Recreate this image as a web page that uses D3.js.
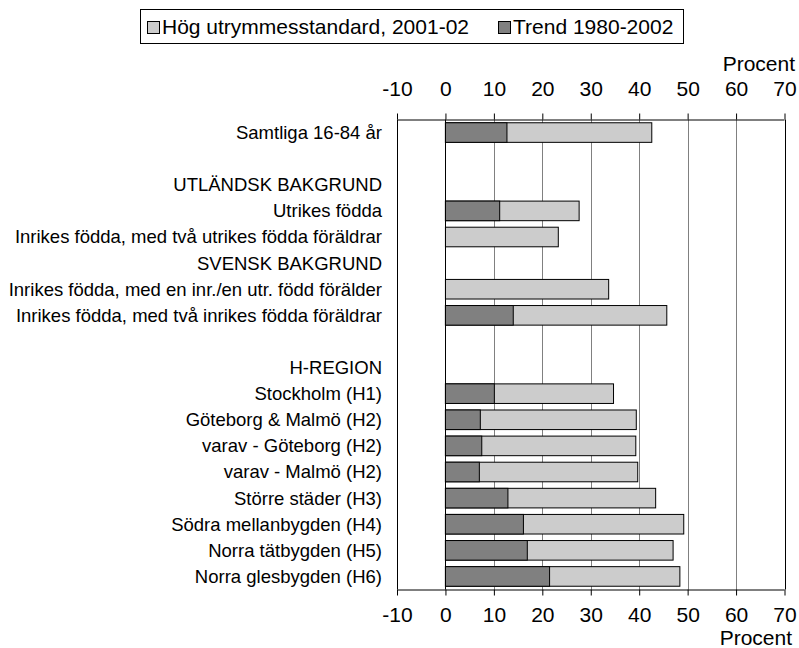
<!DOCTYPE html>
<html>
<head>
<meta charset="utf-8">
<script src="https://cdn.jsdelivr.net/npm/d3@7"></script>
<style>
  body { margin: 0; background: #fff; }
  svg text { font-family: "Liberation Sans", Arial, sans-serif; fill: #000; }
</style>
</head>
<body>
<div id="chart-container"></div>
<script>
// data

const categories = [
  "Samtliga 16-84 år",
  "",
  "UTLÄNDSK BAKGRUND",
  "Utrikes födda",
  "Inrikes födda, med två utrikes födda föräldrar",
  "SVENSK BAKGRUND",
  "Inrikes födda, med en inr./en utr. född förälder",
  "Inrikes födda, med två inrikes födda föräldrar",
  "",
  "H-REGION",
  "Stockholm (H1)",
  "Göteborg & Malmö (H2)",
  "varav - Göteborg (H2)",
  "varav - Malmö (H2)",
  "Större städer (H3)",
  "Södra mellanbygden (H4)",
  "Norra tätbygden (H5)",
  "Norra glesbygden (H6)"
];

// Hög utrymmesstandard, 2001-02
const hogValues = [42.6, null, null, 27.6, 23.3, null, 33.7, 45.7, null, null,
  34.7, 39.4, 39.3, 39.7, 43.4, 49.2, 47.0, 48.4];

// Trend 1980-2002
const trendValues = [12.7, null, null, 11.2, null, null, null, 14.0, null, null,
  10.1, 7.2, 7.5, 7.0, 12.9, 16.1, 16.9, 21.5];

const seriesNames = ["Hög utrymmesstandard, 2001-02", "Trend 1980-2002"];
const xTicks = [-10, 0, 10, 20, 30, 40, 50, 60, 70];
const gridTicks = [10, 20, 30, 40, 50, 60];

// dimensions and margins

const totalWidth = 799;
const totalHeight = 648;
const margin = { top: 119.5, right: 14.5, bottom: 58.5, left: 397 };
const width = totalWidth - margin.left - margin.right;
const height = totalHeight - margin.top - margin.bottom;

const colors = { hog: "#cccccc", trend: "#808080" };
const font = "'Liberation Sans', Arial, sans-serif";

const svg = d3.select("#chart-container")
  .append("svg")
    .attr("width", totalWidth)
    .attr("height", totalHeight)
    .attr("font-family", font);

const g = svg.append("g")
    .attr("transform", `translate(${margin.left},${margin.top})`);

// scales

const x = d3.scaleLinear()
    .domain([-10, 70])
    .range([0, width]);

const y = d3.scaleBand()
    .domain(d3.range(categories.length))
    .range([0, height])
    .paddingInner(0.25)
    .paddingOuter(0.125);

// grid lines

g.append("g")
  .selectAll("line")
  .data(gridTicks)
  .join("line")
    .attr("x1", d => Math.round(x(d)) + 0.5)
    .attr("x2", d => Math.round(x(d)) + 0.5)
    .attr("y1", 0)
    .attr("y2", height)
    .attr("stroke", "#808080")
    .attr("stroke-width", 1);

// bars - light first, dark on top

const rows = categories.map((c, i) => ({ i, hog: hogValues[i], trend: trendValues[i] }));

g.append("g")
  .selectAll("rect")
  .data(rows.filter(d => d.hog != null))
  .join("rect")
    .attr("x", x(0))
    .attr("y", d => y(d.i))
    .attr("width", d => x(d.hog) - x(0))
    .attr("height", y.bandwidth())
    .attr("fill", colors.hog)
    .attr("stroke", "#000")
    .attr("stroke-width", 1);

g.append("g")
  .selectAll("rect")
  .data(rows.filter(d => d.trend != null))
  .join("rect")
    .attr("x", x(0))
    .attr("y", d => y(d.i))
    .attr("width", d => x(d.trend) - x(0))
    .attr("height", y.bandwidth())
    .attr("fill", colors.trend)
    .attr("stroke", "#000")
    .attr("stroke-width", 1);

// zero line and side edges

g.append("line")
    .attr("x1", Math.round(x(0)) + 0.5).attr("x2", Math.round(x(0)) + 0.5)
    .attr("y1", 0).attr("y2", height)
    .attr("stroke", "#000");

g.append("line")
    .attr("x1", 0.5).attr("x2", 0.5)
    .attr("y1", 0).attr("y2", height)
    .attr("stroke", "#000");

g.append("line")
    .attr("x1", Math.round(width) + 0.5).attr("x2", Math.round(width) + 0.5)
    .attr("y1", 0).attr("y2", height)
    .attr("stroke", "#000");

// top and bottom axes

const tickFmt = d => String(d);

const xTop = g.append("g")
    .call(d3.axisTop(x).tickValues(xTicks).tickSize(6).tickPadding(18).tickFormat(tickFmt));

const xBottom = g.append("g")
    .attr("transform", `translate(0,${height})`)
    .call(d3.axisBottom(x).tickValues(xTicks).tickSize(6).tickPadding(12).tickFormat(tickFmt));

[xTop, xBottom].forEach(ax => {
  ax.attr("font-family", font).attr("font-size", 21);
  ax.select(".domain").attr("stroke", "#000").attr("d", `M0.5,0.5H${width}`);
  ax.selectAll(".tick line").attr("stroke", "#000");
  ax.selectAll(".tick text").attr("fill", "#000");
});

// axis titles

svg.append("text")
    .attr("x", 795)
    .attr("y", 71)
    .attr("text-anchor", "end")
    .attr("font-size", 21)
    .text("Procent");

svg.append("text")
    .attr("x", 792)
    .attr("y", 645)
    .attr("text-anchor", "end")
    .attr("font-size", 21)
    .text("Procent");

// category labels

g.append("g")
  .selectAll("text")
  .data(rows)
  .join("text")
    .attr("x", -15)
    .attr("y", d => y(d.i) + y.bandwidth() / 2)
    .attr("dy", "0.35em")
    .attr("text-anchor", "end")
    .attr("font-size", 18.5)
    .text(d => categories[d.i]);

// legend

const legend = svg.append("g");

legend.append("rect")
    .attr("x", 140.5)
    .attr("y", 9.5)
    .attr("width", 543)
    .attr("height", 34)
    .attr("fill", "#fff")
    .attr("stroke", "#000");

const legendItems = [
  { name: seriesNames[0], color: colors.hog, x: 147 },
  { name: seriesNames[1], color: colors.trend, x: 498 }
];

const li = legend.selectAll("g.item")
  .data(legendItems)
  .join("g")
    .attr("class", "item")
    .attr("transform", d => `translate(${d.x},0)`);

li.append("rect")
    .attr("x", 0.5)
    .attr("y", 21.5)
    .attr("width", 12)
    .attr("height", 12)
    .attr("fill", d => d.color)
    .attr("stroke", "#000");

li.append("text")
    .attr("x", 15)
    .attr("y", 34)
    .attr("font-size", 21)
    .text(d => d.name);
</script>
</body>
</html>
